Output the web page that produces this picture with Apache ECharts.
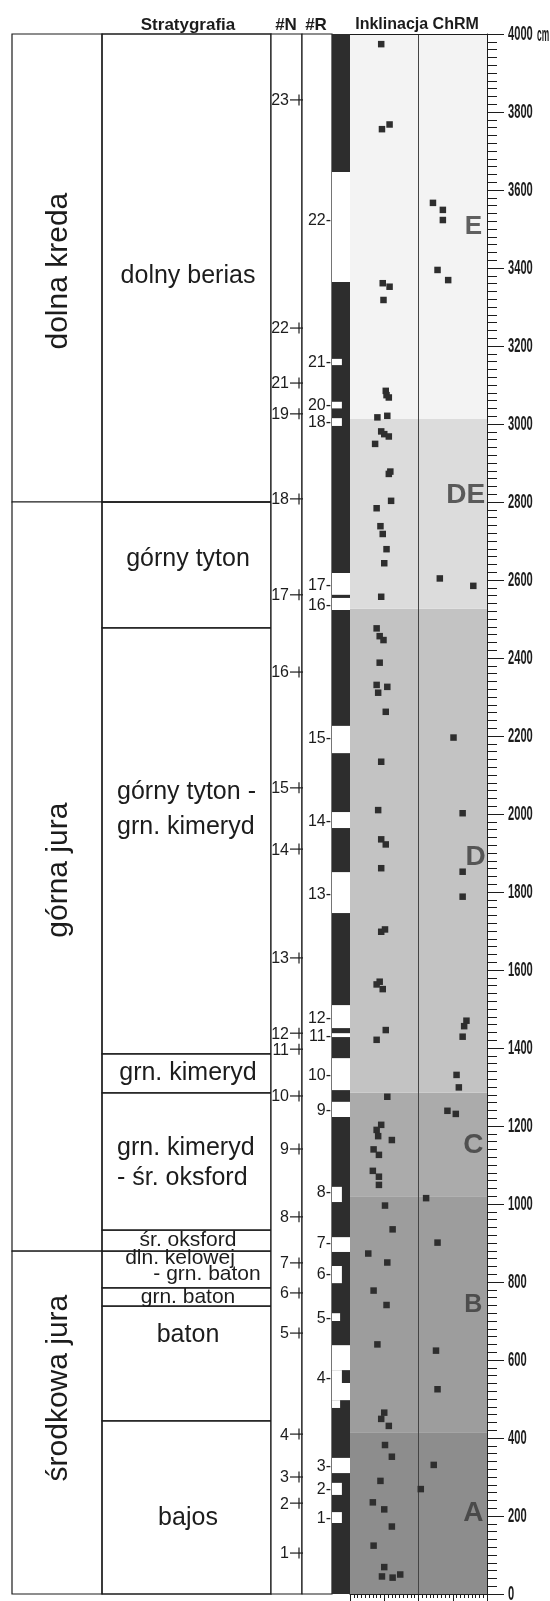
<!DOCTYPE html>
<html><head><meta charset="utf-8">
<script src="https://cdn.jsdelivr.net/npm/echarts@6.0.0/dist/echarts.min.js"></script>
<style>html,body{margin:0;padding:0;background:#fff}#c{width:550px;height:1601px}</style>
</head><body><div id="c"></div><script>
// ---------------- DATA ----------------
const depthRange = [0, 4000];
const depthStep = 200;
const depthTickLabels = [0,200,400,600,800,1000,1200,1400,1600,1800,2000,2200,2400,2600,2800,3000,3200,3400,3600,3800,4000];
const depthUnit = 'cm';
const inclRange = [-90, 90];
const inclStep = 45;

// ChRM inclination (deg, positive drawn to the left) and depth (cm)
const inclination = [49,48,38,-19,-32,-32,-25,-39,47,38,46,
  43,42,39,41,54,49,45,39,57,37,39,36,55,50,47,42,45,-28,-72,49,
  55,51,46,51,55,53,41,43,-46,49,53,-58,49,43,49,-58,-58,
  49,44,55,51,47,-63,-60,-58,43,55,-50,-53,41,-38,-49,49,55,53,35,59,52,60,52,52,-10,
  44,34,-25,66,41,59,42,54,-23,-25,45,49,39,44,35,-20,50,-3,
  60,45,35,59,45,48,34,24];
const depth = [3974,3756,3768,3567,3549,3523,3395,3369,3361,3352,3318,
  3085,3074,3068,3021,3017,2981,2974,2968,2949,2878,2872,2803,2784,2738,2718,2679,2643,2604,2585,2557,
  2476,2456,2446,2388,2331,2311,2326,2262,2196,2134,2010,2002,1935,1922,1861,1852,1788,
  1698,1704,1563,1570,1551,1470,1456,1429,1446,1421,1331,1299,1275,1239,1231,1203,1190,1174,1164,1140,1126,1085,1070,1049,1015,
  996,935,901,873,850,778,741,640,624,525,465,449,431,382,352,331,290,269,
  235,217,173,124,69,45,42,50];

// magnetic zones
const zoneNames = ['A','B','C','D','DE','E'];
const zoneBottom = [0,415,1020,1285,2526,3013];
const zoneTop = [415,1020,1285,2526,3013,4000];
const zoneLabelDepth = [207,741,1151,1890,2818,3505];
const zoneLabelIncl = [-72,-72,-72,-75,-62,-72];

// reversed polarity intervals (cm) and their drawn width fraction
const reversedBottom = [3364,3151,3040,2995,2562,2523,2156,1964,1746,1451,1428,1292,1223,1005,877,797,700,574,541,497,477,310,254,182];
const reversedTop    = [3646,3167,3057,3015,2618,2554,2226,2005,1851,1510,1438,1374,1262,1044,915,841,720,638,574,541,497,349,285,210];
const reversedWidth  = [1,0.55,0.55,0.55,1,1,1,1,1,1,1,1,1,0.55,1,0.55,0.45,1,0.55,1,0.45,1,0.55,0.55];

// magnetozone labels
const normalLabels = ['23','22','21','19','18','17','16','15','14','13','12','11','10','9','8','7','6','5','4','3','2','1'];
const normalDepth  = [3831,3246,3105,3026,2808,2562,2364,2067,1910,1631,1438,1397,1277,1141,967,849,772,669,410,300,233,105];
const reversedLabels = ['22','21','20','18','17','16','15','14','13','12','11','10','9','8','7','6','5','4','3','2','1'];
const reversedLabelDepth = [3523,3159,3049,3005,2587,2536,2195,1982,1797,1479,1433,1333,1241,1031,900,821,710,556,328,269,195];

// stratigraphy
const eraNames = ['dolna kreda','górna jura','środkowa jura'];
const eraTop = [4000,2800,879];
const eraBottom = [2800,879,0];
const eraLabelDepth = [3392,1856,528];

const stageTop    = [4000,2800,2477,1385,1285,933,879,785,738,444];
const stageBottom = [2800,2477,1385,1285,933,879,785,738,444,0];
const stageLines = [['dolny berias'],['górny tyton'],['górny tyton -','grn. kimeryd'],['grn. kimeryd'],
  ['grn. kimeryd','- śr. oksford'],['śr. oksford'],['dln. kelowej','- grn. baton'],['grn. baton'],['baton'],['bajos']];
const stageLineDepth = [[3379],[2654],[2056,1967],[1336],[1144,1067],[908],[862,821],[762],[664],[195]];

// ---------------- STYLE / LAYOUT ----------------
const FONT = '"Liberation Sans", Arial, sans-serif';
const INK = '#1c1c1c';
const L = {left:12, top:34, height:1560, col1:[12,102], col2:[102,271], nCol:[271,302], rCol:[302,332], pol:[332,350], panelLeft:350, panelWidth:137};
const zoneColors = ['#8d8d8d','#9d9d9d','#ababab','#c3c3c3','#dcdcdc','#f3f3f3'];
const zoneFont = [28,25,28,28,28,26];
const stageStyle = [
  {size:25, align:'center', x:[188]},
  {size:25, align:'center', x:[188]},
  {size:25, align:'left', x:[117,117]},
  {size:25, align:'center', x:[188]},
  {size:25, align:'left', x:[117,117]},
  {size:21, align:'center', x:[188]},
  {size:21, align:'center', x:[180,207]},
  {size:21, align:'center', x:[188]},
  {size:25, align:'center', x:[188]},
  {size:25, align:'center', x:[188]}
];

const chart = echarts.init(document.getElementById('c'), null, {renderer:'canvas'});

function P(api, px, cm) { return api.coord([px - L.left, cm]); }
function rectEl(a, b, style) {
  return {type:'rect', shape:{x:a[0], y:a[1], width:b[0]-a[0], height:b[1]-a[1]}, style:style};
}
function txt(x, y, text, size, align, extra) {
  return Object.assign({type:'text', x:x, y:y, style:{text:text, fontSize:size, fontFamily:FONT, fill:INK,
    align:align, verticalAlign:'middle', textAlign:align, textVerticalAlign:'middle'}}, extra || {});
}
function condensed(x, y, text, sx) {
  return {type:'text', x:x, y:y, scaleX:sx, scaleY:1,
    style:{text:text, fontSize:21, fontWeight:'bold', fontFamily:FONT, fill:INK,
      align:'left', verticalAlign:'middle', textAlign:'left', textVerticalAlign:'middle'}};
}

const option = {
  animation:false,
  backgroundColor:'#fff',
  grid:[
    {left:L.panelLeft, top:L.top, width:L.panelWidth, height:L.height, outerBoundsMode:'none', containLabel:false},
    {left:L.left, top:L.top, width:338, height:L.height, outerBoundsMode:'none', containLabel:false}
  ],
  xAxis:[
    {gridIndex:0, type:'value', min:inclRange[0], max:inclRange[1], interval:inclStep, inverse:true,
      axisLine:{show:true, onZero:false, lineStyle:{color:INK, width:1}},
      axisTick:{show:true, length:7, lineStyle:{color:INK}},
      minorTick:{show:true, splitNumber:9, length:4, lineStyle:{color:INK}},
      axisLabel:{show:false}, splitLine:{show:false}},
    {gridIndex:1, type:'value', min:0, max:338, show:false}
  ],
  yAxis:[
    {gridIndex:0, type:'value', position:'right', min:depthRange[0], max:depthRange[1], interval:depthStep,
      axisLine:{show:true, onZero:false, lineStyle:{color:INK, width:1}},
      axisTick:{show:true, length:17, lineStyle:{color:INK}},
      minorTick:{show:true, splitNumber:10, length:10, lineStyle:{color:INK}},
      splitLine:{show:false},
      axisLabel:{show:false}},
    {gridIndex:1, type:'value', min:depthRange[0], max:depthRange[1], show:false}
  ],
  graphic:[
    {type:'text', x:188, y:25, style:{text:'Stratygrafia', font:'bold 17px ' + FONT, fill:INK, align:'center', verticalAlign:'middle'}},
    {type:'text', x:286, y:25, style:{text:'#N', font:'bold 17px ' + FONT, fill:INK, align:'center', verticalAlign:'middle'}},
    {type:'text', x:316, y:25, style:{text:'#R', font:'bold 17px ' + FONT, fill:INK, align:'center', verticalAlign:'middle'}},
    {type:'text', x:417, y:25, style:{text:'Inklinacja ChRM', font:'bold 16px ' + FONT, fill:INK, align:'center', verticalAlign:'middle'}}
  ],
  series:[
    // inclination points with zone backgrounds
    {type:'scatter', xAxisIndex:0, yAxisIndex:0, symbol:'rect', symbolSize:6.5, z:5,
      itemStyle:{color:'#2e2e2e', opacity:1},
      data: inclination.map((v,i) => [v, depth[i]]),
      markArea:{silent:true, z:1,
        data: zoneNames.map((n,i) => [{yAxis:zoneBottom[i], itemStyle:{color:zoneColors[i]}}, {yAxis:zoneTop[i]}])},
      markLine:{silent:true, symbol:'none', label:{show:false},
        lineStyle:{color:'#444', width:1, type:'solid'},
        data:[{xAxis:0}, {yAxis:depthRange[1], lineStyle:{color:INK}}]}
    },
    // zone letters
    {type:'scatter', xAxisIndex:0, yAxisIndex:0, symbol:'circle', symbolSize:1, z:4,
      itemStyle:{color:'rgba(0,0,0,0)'},
      data: zoneNames.map((n,i) => ({value:[zoneLabelIncl[i], zoneLabelDepth[i]], label:{fontSize:zoneFont[i]}})),
      label:{show:true, position:'inside', formatter:p => zoneNames[p.dataIndex], color:'#3a3a3a',
        fontWeight:'bold', fontFamily:FONT}
    },
    // depth tick labels (condensed)
    {type:'custom', xAxisIndex:0, yAxisIndex:0, z:6, clip:false,
      data: depthTickLabels.map(v => [inclRange[0], v]),
      renderItem:(params, api) => {
        const v = depthTickLabels[params.dataIndex];
        const c = api.coord([inclRange[0], v]);
        const kids = [condensed(c[0] + 21, c[1], String(v), 0.53)];
        if (v === depthRange[1]) kids.push(condensed(c[0] + 50, c[1] + 1, depthUnit, 0.4));
        return {type:'group', children:kids};
      }},
    // era column
    {type:'custom', xAxisIndex:1, yAxisIndex:1, z:2,
      data: eraTop.map((t,i) => [i, t, eraBottom[i]]),
      renderItem:(params, api) => {
        const i = params.dataIndex;
        const a = P(api, L.col1[0], eraTop[i]), b = P(api, L.col1[1], eraBottom[i]);
        const c = P(api, 59, eraLabelDepth[i]);
        return {type:'group', children:[
          rectEl(a, b, {fill:'#fff', stroke:INK, lineWidth:1.2}),
          txt(c[0], c[1], eraNames[i], 30, 'center', {rotation:Math.PI/2})
        ]};
      }},
    // stage column
    {type:'custom', xAxisIndex:1, yAxisIndex:1, z:2,
      data: stageTop.map((t,i) => [i, t, stageBottom[i]]),
      renderItem:(params, api) => {
        const i = params.dataIndex;
        const a = P(api, L.col2[0], stageTop[i]), b = P(api, L.col2[1], stageBottom[i]);
        const st = stageStyle[i];
        const kids = [rectEl(a, b, {fill:'rgba(255,255,255,0)', stroke:INK, lineWidth:1.3})];
        stageLines[i].forEach((line, k) => {
          const c = P(api, st.x[k], stageLineDepth[i][k]);
          kids.push(txt(c[0], c[1], line, st.size, st.align));
        });
        return {type:'group', children:kids};
      }},
    // #N / #R column frames + polarity base (normal)
    {type:'custom', xAxisIndex:1, yAxisIndex:1, z:2,
      data:[[0, depthRange[1], depthRange[0]]],
      renderItem:(params, api) => {
        const a1 = P(api, L.nCol[0], depthRange[1]), b1 = P(api, L.nCol[1], depthRange[0]);
        const a2 = P(api, L.rCol[0], depthRange[1]), b2 = P(api, L.rCol[1], depthRange[0]);
        const a3 = P(api, L.pol[0], depthRange[1]), b3 = P(api, L.pol[1], depthRange[0]);
        return {type:'group', children:[
          rectEl(a1, b1, {fill:'#fff', stroke:INK, lineWidth:1.2}),
          rectEl(a2, b2, {fill:'#fff', stroke:INK, lineWidth:1.2}),
          rectEl(a3, b3, {fill:'#2d2d2d'})
        ]};
      }},
    // reversed polarity intervals
    {type:'custom', xAxisIndex:1, yAxisIndex:1, z:3,
      data: reversedBottom.map((b,i) => [i, reversedTop[i], b]),
      renderItem:(params, api) => {
        const i = params.dataIndex;
        const w = (L.pol[1] - L.pol[0]) * reversedWidth[i];
        const a = P(api, L.pol[0], reversedTop[i]), b = P(api, L.pol[0] + w, reversedBottom[i]);
        return rectEl(a, b, {fill:'#fff'});
      }},
    // normal magnetozone labels
    {type:'custom', xAxisIndex:1, yAxisIndex:1, z:3,
      data: normalDepth.map((d,i) => [i, d]),
      renderItem:(params, api) => {
        const i = params.dataIndex;
        const c = P(api, 289, normalDepth[i]);
        return {type:'group', children:[
          txt(c[0], c[1] + 1, normalLabels[i], 16, 'right'),
          {type:'line', shape:{x1:c[0] + 1, y1:c[1], x2:c[0] + 14, y2:c[1]}, style:{stroke:INK, lineWidth:1.2}},
          {type:'line', shape:{x1:c[0] + 10, y1:c[1] - 5.5, x2:c[0] + 10, y2:c[1] + 5.5}, style:{stroke:INK, lineWidth:1.2}}
        ]};
      }},
    // reversed magnetozone labels
    {type:'custom', xAxisIndex:1, yAxisIndex:1, z:3,
      data: reversedLabelDepth.map((d,i) => [i, d]),
      renderItem:(params, api) => {
        const i = params.dataIndex;
        const c = P(api, 331, reversedLabelDepth[i]);
        return txt(c[0], c[1] + 1, reversedLabels[i] + '-', 16, 'right');
      }}
  ]
};
chart.setOption(option);
</script></body></html>
